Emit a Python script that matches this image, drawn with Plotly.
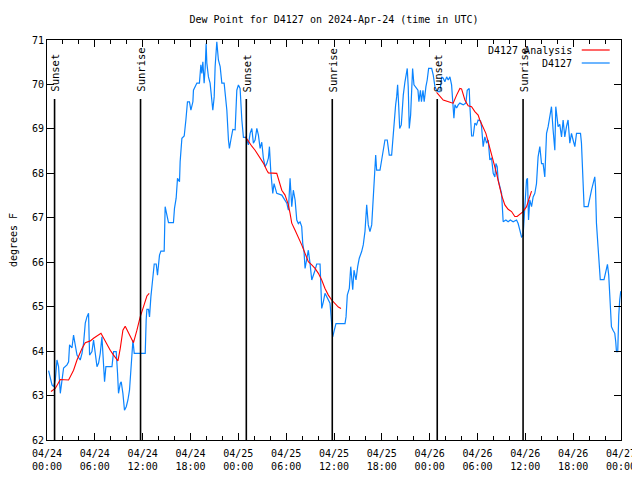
import pandas as pd
import plotly.graph_objects as go

# ---------------- data ----------------
START = "2024-04-24 00:00"

# D4127 observations: hours since START, dew point (F)
obs_hours = [0.20, 0.41, 0.63, 0.83, 1.04, 1.25, 1.45, 1.67, 1.88, 2.08, 2.51, 2.71, 2.83, 3.13, 3.33, 3.55,
             3.76, 4.17, 4.39, 4.59, 4.80, 5.01, 5.21, 5.34, 5.64, 5.84, 6.05, 6.27, 6.47, 6.68, 6.89, 7.09,
             7.22, 7.39, 8.15, 8.35, 8.68, 8.85, 8.97, 9.19, 9.31, 9.52, 9.72, 9.94, 10.15, 10.35, 10.53,
             10.78, 10.94, 12.32, 12.44, 12.53, 12.73, 12.86, 13.03, 13.28, 13.45, 13.70, 13.86, 14.11,
             14.29, 14.70, 14.82, 14.95, 15.24, 15.86, 15.99, 16.20, 16.37, 16.62, 16.70, 16.92, 17.21,
             17.42, 17.62, 17.87, 18.05, 18.30, 18.37, 18.80, 19.12, 19.30, 19.42, 19.55, 19.71, 19.84,
             19.96, 20.05, 20.25, 20.46, 20.68, 20.80, 20.97, 21.09, 21.30, 21.50, 21.72, 21.93, 22.22,
             22.34, 22.56, 22.76, 22.88, 23.06, 23.31, 23.60, 23.81, 24.01, 24.22, 24.44, 24.64, 24.97,
             25.26, 25.48, 25.69, 25.89, 26.10, 26.32, 26.52, 26.73, 26.94, 27.14, 27.36, 27.57, 27.77,
             27.90, 28.07, 28.32, 28.48, 28.82, 29.45, 30.08, 30.28, 30.49, 30.70, 30.90, 31.12, 31.33,
             31.53, 31.74, 31.95, 32.08, 32.24, 32.37, 32.58, 32.78, 32.99, 33.21, 33.62, 33.83, 34.25,
             34.37, 34.46, 34.66, 34.87, 35.50, 35.59, 35.71, 35.84, 36.04, 36.25, 37.38, 37.51, 37.67,
             37.92, 38.10, 38.35, 38.51, 38.76, 38.97, 39.17, 39.47, 39.67, 39.89, 40.10, 40.30, 40.51,
             40.73, 40.93, 41.05, 41.23, 41.35, 41.77, 41.98, 42.18, 42.39, 42.68, 42.81, 42.93, 43.23,
             43.36, 43.52, 43.73, 43.86, 43.98, 44.11, 44.24, 44.44, 44.56, 44.69, 44.90, 45.03, 45.19,
             45.31, 45.44, 45.61, 45.74, 45.86, 46.03, 46.53, 46.65, 46.84, 46.97, 47.16, 47.31, 47.41,
             47.53, 47.69, 47.87, 48.25, 48.45, 48.66, 48.87, 49.07, 49.29, 49.50, 49.70, 49.91, 50.13,
             50.33, 50.54, 50.75, 50.95, 51.04, 51.17, 51.38, 51.58, 51.79, 52.21, 52.54, 52.71, 52.96,
             53.05, 53.26, 53.46, 53.67, 53.88, 54.08, 54.38, 54.51, 54.71, 54.92, 55.14, 55.34, 55.55,
             55.76, 55.97, 56.18, 56.31, 56.47, 56.59, 56.80, 57.02, 57.14, 57.22, 57.56, 57.84, 58.12,
             58.47, 58.90, 59.10, 59.31, 59.52, 59.72, 59.81, 59.94, 60.15, 60.27, 60.40, 60.56, 60.78,
             60.98, 61.19, 61.40, 61.60, 61.73, 61.82, 62.03, 62.23, 62.44, 62.66, 62.86, 63.07, 63.28,
             63.48, 63.70, 63.82, 63.98, 64.11, 64.32, 64.54, 64.74, 64.95, 65.16, 65.36, 65.58, 65.79,
             65.99, 66.21, 66.42, 66.92, 67.04, 67.17, 67.24, 67.37, 67.87, 68.08, 68.30, 68.50, 68.71,
             68.80, 68.92, 69.12, 69.34, 69.40, 69.87, 70.09, 70.30, 70.46, 70.59, 70.71, 70.80, 71.00,
             71.22, 71.34, 71.43, 71.59, 71.63, 71.72, 71.84, 71.97]
obs_values = [63.56, 63.42, 63.24, 63.20, 63.35, 63.80, 63.65, 63.05, 63.42, 63.62, 63.69, 63.76, 64.14, 64.07, 64.36, 64.14,
              63.91, 63.80, 63.95, 64.18, 64.63, 64.77, 64.85, 63.91, 63.99, 64.25, 63.99, 63.65, 63.73, 63.95, 64.32, 63.65,
              63.31, 63.65, 63.65, 63.99, 63.99, 63.50, 63.05, 63.27, 63.31, 63.05, 62.67, 62.75, 62.90, 63.12, 63.72,
              64.25, 63.95, 63.95, 64.70, 64.94, 64.94, 64.77, 65.22, 65.63, 65.96, 65.96, 65.71, 66.16,
              66.25, 66.25, 67.25, 67.14, 66.89, 66.89, 67.21, 67.44, 67.89, 67.81, 68.26, 68.79, 68.84,
              69.20, 69.61, 69.61, 69.42, 69.61, 69.87, 70.03, 70.03, 70.44, 70.25, 70.51, 70.03, 70.36,
              70.92, 70.48, 70.17, 70.03, 69.72, 69.42, 69.72, 70.40, 70.96, 70.55, 70.40, 70.03, 70.03,
              69.80, 69.42, 68.75, 68.56, 68.75, 68.99, 68.98, 69.87, 69.99, 69.91, 69.20, 68.81, 68.81,
              68.64, 68.90, 69.01, 68.68, 68.75, 69.01, 68.86, 68.56, 68.70, 68.34, 68.15, 68.22, 68.34,
              68.60, 68.04, 67.55, 67.77, 67.55, 67.51, 67.33, 67.17, 67.89, 67.25, 67.62, 67.40, 66.95,
              66.87, 66.91, 66.80, 66.42, 66.24, 65.86, 66.12, 66.27, 65.98, 65.60, 65.82, 65.96, 65.96,
              65.45, 64.96, 65.11, 65.30, 65.08, 64.81, 64.51, 64.32, 64.47, 64.62, 64.62, 64.77, 65.26,
              65.41, 65.90, 65.38, 65.82, 65.60, 65.90, 66.09, 66.24, 66.39, 66.70, 67.29, 66.84, 66.69,
              66.84, 67.44, 68.07, 68.41, 68.07, 68.07, 68.30, 68.49, 68.75, 68.75, 68.56, 68.41, 68.41,
              68.71, 69.20, 69.54, 69.72, 69.99, 69.54, 69.01, 69.09, 69.54, 69.76, 70.06, 70.21, 70.36,
              69.95, 69.01, 69.31, 70.10, 70.36, 69.99, 69.87, 69.61, 69.87, 69.61, 69.87, 69.61, 69.87,
              69.95, 70.10, 70.36, 70.36, 70.21, 69.95, 69.87, 69.84, 69.84, 70.17, 70.14, 70.06, 70.17,
              70.10, 70.17, 69.99, 69.42, 69.24, 69.54, 69.47, 69.54, 69.58, 69.54, 69.58, 69.87, 69.91,
              69.50, 68.84, 68.84, 69.13, 69.09, 69.20, 69.18, 69.05, 68.60, 68.82, 68.68, 68.75, 68.30,
              68.35, 68.00, 67.92, 68.22, 68.15, 67.85, 67.70, 67.55, 67.17, 66.91, 66.95, 66.91, 66.95,
              66.91, 66.95, 66.87, 66.72, 66.57, 66.60, 66.95, 67.25, 67.85, 67.89, 66.95, 67.40, 67.25,
              67.47, 67.55, 67.77, 68.37, 68.56, 68.60, 68.22, 68.22, 67.92, 68.90, 69.05, 69.27, 69.50,
              68.98, 68.52, 69.50, 69.27, 69.05, 69.10, 68.82, 69.20, 68.82, 69.05, 69.20, 68.68, 68.90,
              68.75, 68.60, 68.90, 68.90, 68.68, 68.22, 67.77, 67.25, 67.25, 67.47, 67.62, 67.77, 67.92,
              67.70, 66.88, 66.35, 65.86, 65.61, 65.61, 65.82, 65.95, 65.71, 65.26, 64.81, 64.55, 64.47,
              64.40, 64.21, 63.99, 63.99, 64.47, 64.81, 65.15, 65.35]

# D4127 Analysis: three separate night-time segments
ana1_hours = [0.50, 1.04, 1.67, 2.71, 3.33, 3.76, 4.39, 4.80, 5.43, 5.84, 6.77, 7.09, 7.52, 7.93, 8.35,
              8.90, 9.19, 9.52, 9.81, 10.23, 10.65, 10.85, 11.28, 11.69, 12.11, 12.53, 12.82]
ana1_values = [63.09, 63.16, 63.36, 63.35, 63.57, 63.80, 64.06, 64.19, 64.23, 64.29, 64.40, 64.29, 64.14, 64.02, 63.91,
               63.78, 64.06, 64.47, 64.56, 64.40, 64.25, 64.19, 64.47, 64.77, 65.00, 65.24, 65.30]
ana2_hours = [24.90, 25.26, 25.69, 26.10, 26.73, 27.14, 27.57, 27.77, 28.82, 29.02, 29.24, 29.45, 29.86, 30.28,
              30.49, 30.70, 31.12, 31.53, 31.95, 32.37, 32.78, 33.21, 33.62, 34.04, 34.46, 34.87, 35.29,
              35.71, 36.13, 36.54, 36.88]
ana2_values = [68.82, 68.71, 68.61, 68.52, 68.34, 68.23, 68.07, 68.01, 68.00, 67.89, 67.74, 67.62, 67.51, 67.29,
               67.10, 66.88, 66.72, 66.57, 66.39, 66.20, 66.01, 65.94, 65.86, 65.75, 65.60, 65.41, 65.26,
               65.15, 65.08, 64.99, 64.96]
ana3_hours = [48.87, 49.29, 49.70, 50.75, 50.95, 51.38, 51.79, 52.00, 52.42, 52.83, 53.26, 53.67, 54.08, 54.29,
              54.71, 55.05, 55.34, 55.68, 55.97, 56.39, 56.72, 57.02, 57.43, 57.84, 58.27, 58.68, 58.97,
              59.31, 59.72, 60.15, 60.56, 60.78]
ana3_values = [69.82, 69.72, 69.65, 69.59, 69.58, 69.76, 69.91, 69.90, 69.65, 69.52, 69.50, 69.39, 69.31, 69.20,
               69.01, 68.90, 68.71, 68.49, 68.26, 68.00, 67.74, 67.51, 67.29, 67.19, 67.14, 67.03, 67.03,
               67.09, 67.14, 67.25, 67.51, 67.60]

sun_labels = ["Sunset", "Sunrise", "Sunset", "Sunrise", "Sunset", "Sunrise"]
sun_times = ["2024-04-24 00:57", "2024-04-24 11:44", "2024-04-25 01:00",
             "2024-04-25 11:47", "2024-04-26 00:57", "2024-04-26 11:43"]

tick_times = ["2024-04-24 00:00", "2024-04-24 06:00", "2024-04-24 12:00", "2024-04-24 18:00",
              "2024-04-25 00:00", "2024-04-25 06:00", "2024-04-25 12:00", "2024-04-25 18:00",
              "2024-04-26 00:00", "2024-04-26 06:00", "2024-04-26 12:00", "2024-04-26 18:00",
              "2024-04-27 00:00"]
y_range = [62, 71]
series_names = ["D4127 Analysis", "D4127"]
title_text = "Dew Point for D4127 on 2024-Apr-24 (time in UTC)"
y_title = "degrees F"

# ---------------- build ----------------
base = pd.Timestamp(START)


def to_time(hours):
    return [base + pd.Timedelta(hours=h) for h in hours]


FONT = "DejaVu Sans Mono"
FS = 10
BLUE = "#0a84ff"
RED = "#ff0000"
# the page body adds an 8px offset; margins compensate so the plot box lands at 47..621 x 40..440
OFF = 8

fig = go.Figure()
fig.add_trace(go.Scatter(x=to_time(obs_hours), y=obs_values, mode="lines",
                         line=dict(color=BLUE, width=1.2), name=series_names[1], showlegend=False))
for hh, vv in [(ana1_hours, ana1_values), (ana2_hours, ana2_values), (ana3_hours, ana3_values)]:
    fig.add_trace(go.Scatter(x=to_time(hh), y=vv, mode="lines",
                             line=dict(color=RED, width=1.1), name=series_names[0], showlegend=False))

sun_top = 69.67
for lab, t in zip(sun_labels, sun_times):
    ts = pd.Timestamp(t)
    fig.add_shape(type="line", xref="x", yref="y", x0=ts, x1=ts, y0=y_range[0], y1=sun_top,
                  line=dict(color="black", width=1.6))
    fig.add_annotation(x=ts, y=sun_top, xref="x", yref="y", text=lab, textangle=-90,
                       showarrow=False, xanchor="center", yanchor="bottom", yshift=5, xshift=1,
                       font=dict(family=FONT, size=FS + 0.5, color="black"))

# gnuplot-style legend (text then line sample)
legend_rows = [(series_names[0], RED, 0.975), (series_names[1], BLUE, 0.9425)]
for name, col, yy in legend_rows:
    fig.add_annotation(x=0.9177, y=yy, xref="paper", yref="paper", text=name, showarrow=False,
                       xanchor="right", yanchor="middle", font=dict(family=FONT, size=FS, color="black"))
    fig.add_shape(type="line", xref="paper", yref="paper", x0=0.9316, x1=0.9803, y0=yy, y1=yy,
                  line=dict(color=col, width=1.2))

tick_ts = [pd.Timestamp(t) for t in tick_times]
tick_txt = [t.strftime("%m/%d") + "<br>" + t.strftime("%H:%M") for t in tick_ts]

fig.update_layout(
    width=640, height=480,
    margin=dict(l=47 - OFF, r=19 + OFF, t=40 - OFF, b=40 + OFF, autoexpand=False),
    paper_bgcolor="white", plot_bgcolor="white",
    font=dict(family=FONT, size=FS, color="black"),
    title=dict(text=title_text, x=0.5, xref="paper", y=1 - (19 - OFF) / 480, yanchor="middle",
               font=dict(family=FONT, size=FS, color="black")),
    showlegend=False,
)
fig.update_xaxes(
    range=[tick_ts[0], tick_ts[-1]], tickvals=tick_ts, ticktext=tick_txt,
    ticks="inside", ticklen=7, tickcolor="black", tickwidth=1,
    showline=True, linecolor="black", linewidth=1, mirror="allticks",
    showgrid=False, zeroline=False, automargin=False, ticklabelstandoff=4,
    minor=dict(dtick=2 * 3600 * 1000, ticks="inside", ticklen=4, tickcolor="black", showgrid=False),
    tickfont=dict(family=FONT, size=FS),
)
fig.update_yaxes(
    range=y_range, dtick=1, ticks="inside", ticklen=7, tickcolor="black",
    showline=True, linecolor="black", linewidth=1, mirror="allticks",
    showgrid=False, zeroline=False, automargin=False,
    title=dict(text=y_title, font=dict(family=FONT, size=FS), standoff=18),
    tickfont=dict(family=FONT, size=FS),
)

fig.write_html("out.html")
